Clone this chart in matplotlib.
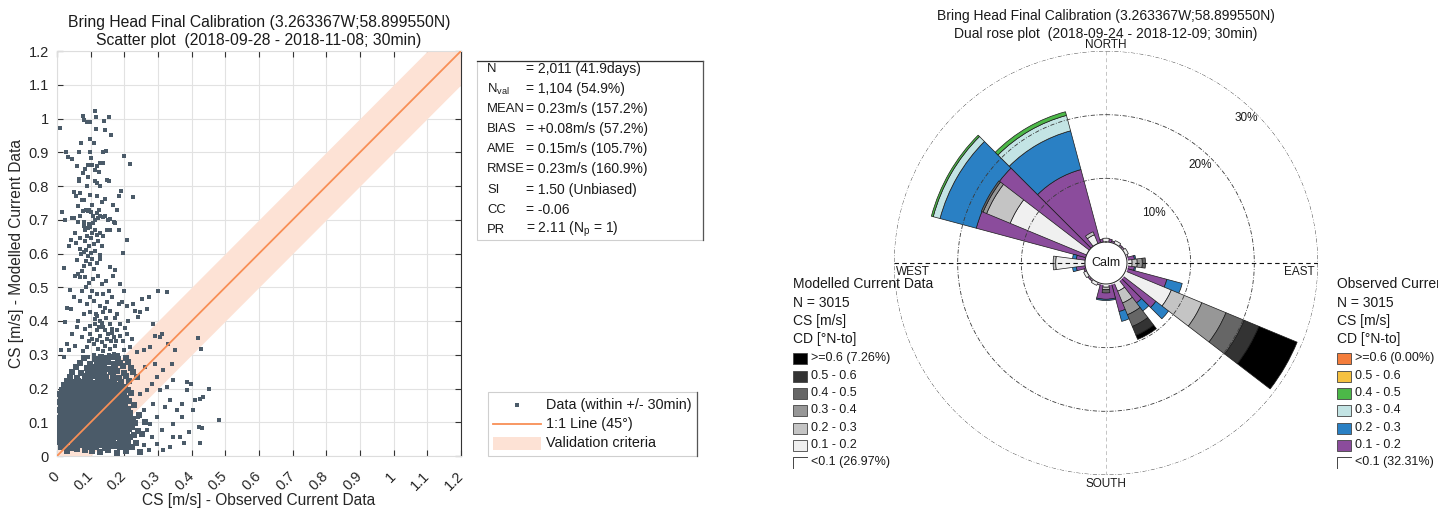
import numpy as np
import matplotlib.pyplot as plt
from matplotlib.patches import Rectangle
from matplotlib.lines import Line2D

plt.rcParams['font.family'] = ['Liberation Sans', 'DejaVu Sans']
plt.rcParams['mathtext.fontset'] = 'custom'
plt.rcParams['mathtext.rm'] = 'Liberation Sans'

W, H = 1438, 511

# ---- scatter data (observed, modelled) in m/s
upper_pts = [
    (0.008, 0.972), (0.077, 1.008), (0.081, 0.995), (0.090, 0.990), (0.097, 0.990), (0.112, 1.022),
    (0.117, 1.003), (0.140, 0.994), (0.153, 1.003), (0.117, 0.970), (0.144, 0.966), (0.161, 0.951),
    (0.028, 0.902), (0.032, 0.887), (0.045, 0.879), (0.066, 0.900), (0.072, 0.927), (0.097, 0.938),
    (0.099, 0.902), (0.109, 0.927), (0.138, 0.902), (0.146, 0.905), (0.200, 0.889), (0.217, 0.865),
    (0.084, 0.850), (0.091, 0.861), (0.104, 0.861), (0.112, 0.848), (0.119, 0.858), (0.128, 0.868),
    (0.138, 0.868), (0.064, 0.821), (0.066, 0.814), (0.091, 0.828), (0.114, 0.814), (0.119, 0.810),
    (0.128, 0.800), (0.148, 0.818), (0.153, 0.814), (0.051, 0.781), (0.057, 0.769), (0.069, 0.779),
    (0.073, 0.760), (0.081, 0.760), (0.097, 0.774), (0.119, 0.769), (0.135, 0.754), (0.144, 0.761),
    (0.166, 0.745), (0.178, 0.730), (0.183, 0.770), (0.190, 0.784), (0.225, 0.767), (0.016, 0.723),
    (0.025, 0.700), (0.045, 0.705), (0.051, 0.705), (0.061, 0.693), (0.069, 0.710), (0.079, 0.693),
    (0.087, 0.728), (0.091, 0.725), (0.096, 0.730), (0.101, 0.723), (0.107, 0.712), (0.112, 0.700),
    (0.119, 0.720), (0.123, 0.705), (0.128, 0.712), (0.136, 0.708), (0.143, 0.712), (0.150, 0.700),
    (0.158, 0.702), (0.168, 0.693), (0.173, 0.689), (0.183, 0.671), (0.079, 0.681), (0.084, 0.671),
    (0.091, 0.676), (0.099, 0.679), (0.104, 0.661), (0.114, 0.671), (0.119, 0.656), (0.128, 0.661),
    (0.138, 0.651), (0.148, 0.671), (0.158, 0.671), (0.054, 0.661), (0.041, 0.641), (0.057, 0.632),
    (0.069, 0.646), (0.084, 0.637), (0.094, 0.622), (0.111, 0.627), (0.123, 0.637), (0.133, 0.622),
    (0.035, 0.622), (0.207, 0.641), (0.195, 0.602), (0.101, 0.602), (0.069, 0.614), (0.079, 0.605),
    (0.087, 0.610), (0.113, 0.606), (0.128, 0.597), (0.096, 0.688), (0.107, 0.690), (0.089, 0.652),
    (0.102, 0.645), (0.076, 0.725), (0.125, 0.728), (0.062, 0.742), (0.104, 0.745), (0.088, 0.800),
    (0.077, 0.838), (0.101, 0.882), (0.124, 0.842), (0.058, 0.860),
]
mid_pts = [
    (0.020, 0.558), (0.040, 0.492), (0.042, 0.436), (0.025, 0.396), (0.013, 0.313), (0.054, 0.534),
    (0.061, 0.539), (0.069, 0.529), (0.074, 0.549), (0.081, 0.563), (0.087, 0.578), (0.091, 0.593),
    (0.099, 0.568), (0.104, 0.583), (0.111, 0.554), (0.119, 0.573), (0.094, 0.514), (0.107, 0.524),
    (0.123, 0.534), (0.133, 0.509), (0.074, 0.490), (0.087, 0.500), (0.104, 0.490), (0.119, 0.480),
    (0.138, 0.480), (0.153, 0.490), (0.166, 0.534), (0.173, 0.551), (0.188, 0.509), (0.200, 0.488),
    (0.069, 0.460), (0.089, 0.450), (0.111, 0.460), (0.128, 0.445), (0.148, 0.455), (0.079, 0.421),
    (0.097, 0.426), (0.119, 0.416), (0.136, 0.426), (0.158, 0.431), (0.183, 0.450), (0.193, 0.455),
    (0.207, 0.445), (0.227, 0.450), (0.252, 0.465), (0.272, 0.470), (0.301, 0.488), (0.326, 0.486),
    (0.232, 0.431), (0.247, 0.426), (0.267, 0.436), (0.242, 0.411), (0.212, 0.401), (0.188, 0.391),
    (0.059, 0.382), (0.084, 0.377), (0.099, 0.386), (0.119, 0.372), (0.138, 0.382), (0.163, 0.377),
    (0.178, 0.372), (0.044, 0.362), (0.074, 0.352), (0.104, 0.347), (0.128, 0.357), (0.148, 0.347),
    (0.168, 0.352), (0.188, 0.357), (0.207, 0.362), (0.222, 0.347), (0.030, 0.332), (0.054, 0.327),
    (0.089, 0.323), (0.109, 0.332), (0.123, 0.318), (0.143, 0.327), (0.158, 0.318), (0.173, 0.327),
    (0.198, 0.313), (0.217, 0.323), (0.237, 0.308), (0.257, 0.313), (0.277, 0.323), (0.291, 0.357),
    (0.306, 0.352), (0.286, 0.391), (0.311, 0.362), (0.114, 0.405), (0.128, 0.400), (0.146, 0.410),
    (0.173, 0.410), (0.150, 0.362), (0.133, 0.337), (0.168, 0.303), (0.153, 0.298), (0.109, 0.298),
    (0.128, 0.295), (0.091, 0.293), (0.020, 0.293), (0.035, 0.313), (0.112, 0.392), (0.135, 0.395),
    (0.156, 0.392), (0.142, 0.372), (0.160, 0.342), (0.176, 0.340), (0.118, 0.344), (0.098, 0.362),
    (0.138, 0.310), (0.181, 0.300), (0.163, 0.365), (0.124, 0.382), (0.115, 0.420), (0.142, 0.440),
    (0.098, 0.470), (0.082, 0.530), (0.060, 0.580), (0.071, 0.598), (0.050, 0.470), (0.030, 0.440),
    (0.163, 0.470), (0.178, 0.420), (0.196, 0.340), (0.203, 0.380), (0.094, 0.340), (0.076, 0.310),
    (0.062, 0.400), (0.145, 0.520), (0.157, 0.560), (0.127, 0.585),
]
core_low = [
    (0.012, 0.027), (0.027, 0.031), (0.041, 0.025), (0.058, 0.029), (0.071, 0.033), (0.086, 0.026),
    (0.099, 0.030), (0.115, 0.028), (0.128, 0.032), (0.143, 0.025), (0.157, 0.029), (0.172, 0.031),
    (0.188, 0.027), (0.205, 0.030), (0.222, 0.026),
    (0.005, 0.041), (0.019, 0.038), (0.034, 0.043), (0.049, 0.039), (0.064, 0.042), (0.078, 0.037),
    (0.092, 0.041), (0.107, 0.044), (0.121, 0.038), (0.136, 0.042), (0.151, 0.039), (0.165, 0.043),
    (0.179, 0.037), (0.195, 0.041), (0.212, 0.044), (0.236, 0.038),
    (0.010, 0.053), (0.025, 0.050), (0.040, 0.055), (0.055, 0.051), (0.069, 0.054), (0.083, 0.049),
    (0.098, 0.053), (0.112, 0.056), (0.127, 0.050), (0.141, 0.054), (0.156, 0.051), (0.171, 0.055),
    (0.186, 0.049), (0.201, 0.053), (0.218, 0.056),
    (0.004, 0.065), (0.018, 0.062), (0.032, 0.067), (0.047, 0.063), (0.062, 0.066), (0.077, 0.061),
    (0.091, 0.065), (0.105, 0.068), (0.120, 0.062), (0.134, 0.066), (0.149, 0.063), (0.163, 0.067),
    (0.178, 0.061), (0.193, 0.065), (0.209, 0.068), (0.228, 0.062), (0.251, 0.066),
    (0.009, 0.077), (0.024, 0.074), (0.039, 0.079), (0.053, 0.075), (0.068, 0.078), (0.082, 0.073),
    (0.097, 0.077), (0.111, 0.080), (0.126, 0.074), (0.140, 0.078), (0.155, 0.075), (0.169, 0.079),
    (0.184, 0.073), (0.199, 0.077), (0.215, 0.080), (0.240, 0.074),
    (0.003, 0.089), (0.017, 0.086), (0.031, 0.091), (0.046, 0.087), (0.061, 0.090), (0.075, 0.085),
    (0.090, 0.089), (0.104, 0.092), (0.119, 0.086), (0.133, 0.090), (0.148, 0.087), (0.162, 0.091),
    (0.177, 0.085), (0.191, 0.089), (0.206, 0.092), (0.224, 0.086),
    (0.010, 0.101), (0.024, 0.098), (0.038, 0.103), (0.053, 0.099), (0.067, 0.102), (0.082, 0.097),
    (0.096, 0.101), (0.111, 0.104), (0.125, 0.098), (0.140, 0.102), (0.154, 0.099), (0.169, 0.103),
    (0.183, 0.097), (0.198, 0.101), (0.213, 0.104), (0.233, 0.098), (0.262, 0.102),
    (0.004, 0.113), (0.018, 0.110), (0.032, 0.115), (0.047, 0.111), (0.061, 0.114), (0.076, 0.109),
    (0.090, 0.113), (0.105, 0.116), (0.119, 0.110), (0.134, 0.114), (0.148, 0.111), (0.163, 0.115),
    (0.177, 0.109), (0.192, 0.113), (0.208, 0.116), (0.225, 0.110),
    (0.084, 0.018), (0.128, 0.013), (0.178, 0.010), (0.247, 0.013), (0.105, 0.016), (0.152, 0.018),
    (0.205, 0.016), (0.060, 0.020), (0.030, 0.015),
]
core_high = [
    (0.011, 0.125), (0.025, 0.122), (0.040, 0.127), (0.054, 0.123), (0.069, 0.126), (0.083, 0.121),
    (0.098, 0.125), (0.112, 0.128), (0.127, 0.122), (0.141, 0.126), (0.156, 0.123), (0.170, 0.127),
    (0.185, 0.121), (0.200, 0.125), (0.218, 0.128), (0.245, 0.122),
    (0.005, 0.137), (0.019, 0.134), (0.033, 0.139), (0.048, 0.135), (0.062, 0.138), (0.077, 0.133),
    (0.091, 0.137), (0.106, 0.140), (0.120, 0.134), (0.135, 0.138), (0.149, 0.135), (0.164, 0.139),
    (0.178, 0.133), (0.193, 0.137), (0.210, 0.140),
    (0.012, 0.149), (0.026, 0.146), (0.041, 0.151), (0.055, 0.147), (0.070, 0.150), (0.084, 0.145),
    (0.099, 0.149), (0.113, 0.152), (0.128, 0.146), (0.142, 0.150), (0.157, 0.147), (0.171, 0.151),
    (0.186, 0.145), (0.203, 0.149), (0.229, 0.152),
    (0.007, 0.161), (0.021, 0.158), (0.035, 0.163), (0.050, 0.159), (0.064, 0.162), (0.079, 0.157),
    (0.093, 0.161), (0.108, 0.164), (0.122, 0.158), (0.137, 0.162), (0.151, 0.159), (0.166, 0.163),
    (0.180, 0.157), (0.196, 0.161), (0.214, 0.164),
    (0.013, 0.173), (0.028, 0.170), (0.042, 0.175), (0.057, 0.171), (0.071, 0.174), (0.086, 0.169),
    (0.100, 0.173), (0.115, 0.176), (0.129, 0.170), (0.144, 0.174), (0.158, 0.171), (0.173, 0.175),
    (0.188, 0.169), (0.205, 0.173),
    (0.009, 0.185), (0.023, 0.182), (0.038, 0.187), (0.052, 0.183), (0.067, 0.186), (0.081, 0.181),
    (0.096, 0.185), (0.110, 0.188), (0.125, 0.182), (0.139, 0.186), (0.154, 0.183), (0.168, 0.187),
    (0.183, 0.181), (0.199, 0.185), (0.221, 0.188),
    (0.016, 0.197), (0.031, 0.194), (0.045, 0.199), (0.060, 0.195), (0.074, 0.198), (0.089, 0.193),
    (0.103, 0.197), (0.118, 0.200), (0.132, 0.194), (0.147, 0.198), (0.161, 0.195), (0.176, 0.199),
    (0.192, 0.193), (0.212, 0.197),
    (0.022, 0.209), (0.037, 0.206), (0.051, 0.211), (0.066, 0.207), (0.080, 0.210), (0.095, 0.205),
    (0.109, 0.209), (0.124, 0.212), (0.138, 0.206), (0.153, 0.210), (0.168, 0.207), (0.184, 0.211),
    (0.201, 0.205),
    (0.030, 0.221), (0.048, 0.218), (0.063, 0.223), (0.078, 0.219), (0.092, 0.222), (0.107, 0.217),
    (0.121, 0.221), (0.136, 0.224), (0.152, 0.218), (0.170, 0.222), (0.190, 0.219), (0.215, 0.223),
    (0.038, 0.235), (0.060, 0.232), (0.082, 0.237), (0.097, 0.233), (0.113, 0.236), (0.128, 0.231),
    (0.146, 0.235), (0.165, 0.238), (0.183, 0.232), (0.205, 0.236), (0.238, 0.233),
    (0.045, 0.249), (0.071, 0.246), (0.093, 0.251), (0.110, 0.247), (0.127, 0.250), (0.141, 0.245),
    (0.160, 0.249), (0.178, 0.252), (0.198, 0.246), (0.226, 0.250),
    (0.056, 0.263), (0.088, 0.260), (0.104, 0.265), (0.122, 0.261), (0.139, 0.264), (0.155, 0.259),
    (0.173, 0.263), (0.195, 0.266), (0.219, 0.260),
    (0.067, 0.277), (0.099, 0.274), (0.118, 0.279), (0.134, 0.275), (0.150, 0.278), (0.168, 0.273),
    (0.186, 0.277), (0.212, 0.280),
    (0.081, 0.291), (0.112, 0.288), (0.130, 0.293), (0.147, 0.289), (0.163, 0.292), (0.182, 0.287),
    (0.204, 0.291),
]
spread_pts = [
    (0.481, 0.106), (0.452, 0.198), (0.420, 0.350), (0.428, 0.318), (0.385, 0.219), (0.397, 0.214),
    (0.425, 0.170), (0.435, 0.175), (0.422, 0.087), (0.430, 0.082), (0.425, 0.039), (0.393, 0.072),
    (0.378, 0.039), (0.365, 0.057), (0.346, 0.096), (0.356, 0.136), (0.370, 0.155), (0.336, 0.165),
    (0.326, 0.205), (0.346, 0.224), (0.316, 0.254), (0.341, 0.273), (0.351, 0.313), (0.331, 0.332),
    (0.296, 0.234), (0.306, 0.195), (0.321, 0.146), (0.296, 0.116), (0.311, 0.077), (0.281, 0.057),
    (0.296, 0.037), (0.272, 0.018), (0.257, 0.032), (0.277, 0.096), (0.286, 0.155), (0.267, 0.195),
    (0.281, 0.214), (0.291, 0.273), (0.262, 0.264), (0.247, 0.185), (0.257, 0.136), (0.267, 0.077),
    (0.242, 0.116), (0.370, 0.116), (0.405, 0.136), (0.346, 0.057), (0.336, 0.028), (0.316, 0.018),
    (0.385, 0.195), (0.410, 0.165),
]

axis_ticks = [0, 0.1, 0.2, 0.3, 0.4, 0.5, 0.6, 0.7, 0.8, 0.9, 1.0, 1.1, 1.2]
axis_labels = ['0', '0.1', '0.2', '0.3', '0.4', '0.5', '0.6', '0.7', '0.8', '0.9', '1', '1.1', '1.2']
band_halfwidth = 0.1

stat_names = ['N', r'N$_{\mathrm{val}}$', 'MEAN', 'BIAS', 'AME', 'RMSE', 'SI', 'CC', 'PR']
stat_values = ['= 2,011 (41.9days)', '= 1,104 (54.9%)', '= 0.23m/s (157.2%)', '= +0.08m/s (57.2%)',
               '= 0.15m/s (105.7%)', '= 0.23m/s (160.9%)', '= 1.50 (Unbiased)', '= -0.06',
               r'= 2.11 (N$_{\mathrm{p}}$ = 1)']

# ---- rose data: % of records per 30 deg direction bin and speed class
dir_bins = [0, 30, 60, 90, 120, 150, 180, 210, 240, 270, 300, 330]
obs_01_02 = [0.5, 0.3, 0.3, 1.2, 6.6, 4.6, 2.4, 0.3, 0.3, 1.4, 17.8, 11.9]
obs_02_03 = [0, 0, 0, 0.2, 2.5, 1.6, 0.2, 0, 0, 0.6, 5.9, 6.3]
obs_03_04 = [0, 0, 0, 0, 0, 0, 0, 0, 0, 0, 1.1, 2.5]
obs_04_05 = [0, 0, 0, 0, 0, 0, 0, 0, 0, 0, 0.3, 0.6]
obs_05_06 = [0, 0, 0, 0, 0, 0, 0, 0, 0, 0, 0, 0]
obs_06_up = [0, 0, 0, 0, 0, 0, 0, 0, 0, 0, 0, 0]
mod_01_02 = [0.6, 0.5, 0.5, 0.8, 7.8, 1.5, 0.5, 0.5, 0.5, 4.6, 13.0, 1.5]
mod_02_03 = [0, 0, 0, 0.8, 5.2, 2.0, 0.4, 0, 0, 0.4, 4.0, 0.5]
mod_03_04 = [0, 0, 0, 0.8, 4.1, 2.0, 0, 0, 0, 0, 0.6, 0]
mod_04_05 = [0, 0, 0, 0.5, 3.1, 2.0, 0.5, 0, 0, 0, 0.3, 0]
mod_05_06 = [0, 0, 0, 0, 2.5, 1.5, 0, 0, 0, 0, 0, 0]
mod_06_up = [0, 0, 0, 0, 6.5, 0.7, 0, 0, 0, 0, 0, 0]

mod_legend = ['>=0.6 (7.26%)', '0.5 - 0.6', '0.4 - 0.5', '0.3 - 0.4', '0.2 - 0.3', '0.1 - 0.2', '<0.1 (26.97%)']
obs_legend = ['>=0.6 (0.00%)', '0.5 - 0.6', '0.4 - 0.5', '0.3 - 0.4', '0.2 - 0.3', '0.1 - 0.2', '<0.1 (32.31%)']
mod_colors = ['#f0f0f0', '#c4c4c4', '#979797', '#666666', '#333333', '#000000']
obs_colors = ['#8b4c9c', '#2a80c4', '#c3e4e4', '#4cb848', '#f6c140', '#f47d3b']


def fx(x):
    return x / W


def fy(y):
    return 1 - y / H


fig = plt.figure(figsize=(W / 100, H / 100), dpi=100)

# ================= scatter plot =================
ax = fig.add_axes([fx(57), fy(456), 404 / W, 405 / H])
ax.fill_between([0, 1.2], [0 - band_halfwidth, 1.2 - band_halfwidth],
                [0 + band_halfwidth, 1.2 + band_halfwidth], color='#fde2d5', lw=0, zorder=1)
ax.plot([0, 1.2], [0, 1.2], color='#f88f56', lw=1.3, zorder=4)
for pts, size in [(upper_pts, 2.6), (mid_pts, 2.6), (core_low, 3.7), (core_high, 3.7), (spread_pts, 2.6)]:
    ob = [p[0] for p in pts]
    md = [p[1] for p in pts]
    ax.plot(ob, md, 's', ms=size, mew=0, color='#4b5b69', zorder=3)

ax.set_xlim(0, 1.2)
ax.set_ylim(0, 1.2)
ax.set_xticks(axis_ticks)
ax.set_yticks(axis_ticks)
ax.set_xticklabels(axis_labels, rotation=45, ha='right', va='center', rotation_mode='anchor')
ax.set_yticklabels(axis_labels)
ax.tick_params(direction='in', top=True, right=True, length=4, width=0.8, color='#333333',
               labelsize=10.5, labelcolor='#262626')
ax.tick_params(axis='x', pad=13)
ax.tick_params(axis='y', pad=6)
ax.grid(color='#e2e2e2', lw=0.8, zorder=0)
ax.set_axisbelow(True)
for s in ['left', 'bottom', 'top']:
    ax.spines[s].set_color('#dddddd')
ax.spines['right'].set_color('#333333')

fig.text(fx(259), fy(22), 'Bring Head Final Calibration (3.263367W;58.899550N)', ha='center', va='center',
         fontsize=11.3, color='#1a1a1a')
fig.text(fx(259), fy(40), 'Scatter plot  (2018-09-28 - 2018-11-08; 30min)', ha='center', va='center',
         fontsize=11.3, color='#1a1a1a')
fig.text(fx(259), fy(500), 'CS [m/s] - Observed Current Data', ha='center', va='center', fontsize=11.2,
         color='#262626')
fig.text(fx(17), fy(254), 'CS [m/s] - Modelled Current Data', ha='center', va='center', rotation=90,
         fontsize=11.2, color='#262626')

# stats box
fig.patches.append(Rectangle((fx(477), fy(240)), 226 / W, 179 / H, transform=fig.transFigure,
                             facecolor='white', edgecolor='#cfcfcf', lw=0.8))
fig.lines.append(Line2D([fx(477), fx(703)], [fy(61), fy(61)], transform=fig.transFigure, color='#333', lw=0.9))
fig.lines.append(Line2D([fx(703), fx(703)], [fy(61), fy(240)], transform=fig.transFigure, color='#555', lw=0.9))
for i, (nm, val) in enumerate(zip(stat_names, stat_values)):
    yy = 69 + 20.1 * i
    fig.text(fx(487), fy(yy), nm, ha='left', va='center', fontsize=9.4, color='#1a1a1a')
    fig.text(fx(526), fy(yy), val, ha='left', va='center', fontsize=10, color='#1a1a1a')

# legend box
fig.patches.append(Rectangle((fx(488), fy(456)), 209 / W, 64 / H, transform=fig.transFigure,
                             facecolor='white', edgecolor='#cfcfcf', lw=0.8))
fig.lines.append(Line2D([fx(697), fx(697)], [fy(392), fy(456)], transform=fig.transFigure, color='#555', lw=0.9))
fig.lines.append(Line2D([fx(517)], [fy(405)], transform=fig.transFigure, marker='s', ms=2.4, mew=0,
                        color='#4b5b69', ls='none'))
fig.lines.append(Line2D([fx(493), fx(541)], [fy(424), fy(424)], transform=fig.transFigure, color='#f88f56', lw=1.3))
fig.patches.append(Rectangle((fx(493), fy(450)), 48 / W, 13 / H, transform=fig.transFigure,
                             facecolor='#fde2d5', lw=0))
for yy, t in zip([405, 424, 443], ['Data (within +/- 30min)', '1:1 Line (45°)', 'Validation criteria']):
    fig.text(fx(546), fy(yy), t, ha='left', va='center', fontsize=10.4, color='#1a1a1a')

# ================= dual rose plot =================
R0 = -3.3
RPX = 212
rax = fig.add_axes([fx(1106 - RPX), fy(263 + RPX), 2 * RPX / W, 2 * RPX / H], projection='polar')
rax.set_theta_zero_location('N')
rax.set_theta_direction(-1)
rax.set_ylim(R0, 30)
rax.axis('off')
th = np.radians(dir_bins)


def stack(bands, colors, width, z):
    base = np.zeros(len(dir_bins))
    for vals, c in zip(bands, colors):
        vals = np.array(vals, float)
        m = vals > 0
        if m.any():
            rax.bar(th[m], vals[m], width=np.radians(width), bottom=base[m], color=c,
                    edgecolor='#1a1a1a', linewidth=0.5, zorder=z)
        base += vals


stack([obs_01_02, obs_02_03, obs_03_04, obs_04_05, obs_05_06, obs_06_up], obs_colors, 30, 2)
stack([mod_01_02, mod_02_03, mod_03_04, mod_04_05, mod_05_06, mod_06_up], mod_colors, 15, 3)

full = np.linspace(0, 2 * np.pi, 400)
for r in [10, 20, 30]:
    rax.plot(full, np.full_like(full, r), color='#3a3a3a', lw=0.6, ls=(0, (5, 2, 1, 2)), zorder=4)
rax.plot([0, 0], [30, R0], color='#c4c4c4', lw=0.7, ls=(0, (4, 3)), zorder=1)
rax.plot([np.pi, np.pi], [30, R0], color='#c4c4c4', lw=0.7, ls=(0, (4, 3)), zorder=1)
rax.plot([np.pi / 2, np.pi / 2], [30, R0], color='#111111', lw=0.8, ls=(0, (4, 3)), zorder=4)
rax.plot([1.5 * np.pi, 1.5 * np.pi], [30, R0], color='#111111', lw=0.8, ls=(0, (4, 3)), zorder=4)
rax.fill_between(full, R0, 0, color='white', zorder=5)
rax.plot(full, np.zeros_like(full), color='#222222', lw=0.7, zorder=6)
rax.text(0, R0, 'Calm', ha='center', va='center', fontsize=9, zorder=7, color='#1a1a1a')
for r, t in zip([7.6, 18.1, 28.4], ['10%', '20%', '30%']):
    rax.text(np.radians(44), r, t, ha='center', va='center', fontsize=8.5, color='#1a1a1a', zorder=7)

fig.text(fx(1106), fy(16), 'Bring Head Final Calibration (3.263367W;58.899550N)', ha='center', va='center',
         fontsize=10, color='#1a1a1a')
fig.text(fx(1106), fy(34), 'Dual rose plot  (2018-09-24 - 2018-12-09; 30min)', ha='center', va='center',
         fontsize=10, color='#1a1a1a')
fig.text(fx(1106), fy(45), 'NORTH', ha='center', va='center', fontsize=8.5, color='#1a1a1a')
fig.text(fx(1106), fy(484), 'SOUTH', ha='center', va='center', fontsize=8.5, color='#1a1a1a')
fig.text(fx(896), fy(272), 'WEST', ha='left', va='center', fontsize=8.5, color='#1a1a1a')
fig.text(fx(1315), fy(272), 'EAST', ha='right', va='center', fontsize=8.5, color='#1a1a1a')


def rose_legend(x0, title, labels, colors):
    heads = [title, 'N = 3015', 'CS [m/s]', 'CD [°N-to]']
    for yy, t in zip([284, 303, 321, 339], heads):
        fig.text(fx(x0), fy(yy), t, ha='left', va='center', fontsize=10, color='#1a1a1a')
    rows = [358, 376, 393, 410, 428, 445, 462]
    box_cols = list(reversed(colors)) + ['white']
    for yy, t, c in zip(rows, labels, box_cols):
        if c == 'white':
            fig.lines.append(Line2D([fx(x0), fx(x0), fx(x0 + 14)], [fy(yy + 5.5), fy(yy - 5.5), fy(yy - 5.5)],
                                    transform=fig.transFigure, color='#444', lw=0.7))
        else:
            fig.patches.append(Rectangle((fx(x0), fy(yy + 5.5)), 14 / W, 11 / H, transform=fig.transFigure,
                                         facecolor=c, edgecolor='#444', lw=0.6))
        fig.text(fx(x0 + 18), fy(yy), t, ha='left', va='center', fontsize=9, color='#1a1a1a')


rose_legend(793, 'Modelled Current Data', mod_legend, mod_colors)
rose_legend(1337, 'Observed Current Data', obs_legend, obs_colors)

fig.savefig('out.png', dpi=100)
